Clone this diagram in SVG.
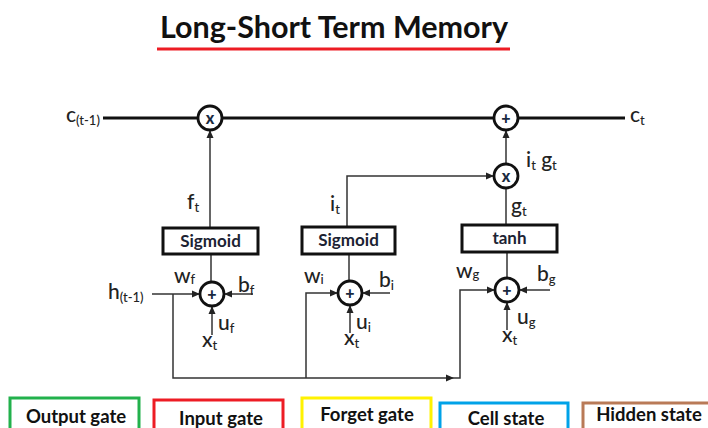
<svg xmlns="http://www.w3.org/2000/svg" width="708" height="428" viewBox="0 0 708 428">
<defs>
<marker id="arr" markerUnits="userSpaceOnUse" markerWidth="8" markerHeight="8" refX="7" refY="4" orient="auto">
<path d="M0,0.5 L8,4 L0,7.5 Z" fill="#222"/>
</marker>
<style>
text{font-family:Lato,"Liberation Sans",sans-serif;fill:#222}
.title{font-size:30.5px;font-weight:bold;fill:#111}
.op{fill:#fff;stroke:#111;stroke-width:2.8}
.opt{font-size:16px;font-weight:900;text-anchor:middle;fill:#1a2a40}
.box{fill:#fff;stroke:#111;stroke-width:3}
.bt{font-size:17px;font-weight:bold;text-anchor:middle;fill:#1c2333}
.main{stroke:#111;stroke-width:3;fill:none}
.thin{stroke:#333;stroke-width:1.5;fill:none}
.lbl{font-size:21px;font-weight:500}
.sub{font-size:13px}
.lg{fill:#fff;stroke-width:3}
.lt{font-size:18.5px;font-weight:bold;text-anchor:middle;fill:#111}
</style>
</defs>
<rect width="708" height="428" fill="#fff"/>
<g id="title">
<text class="title" x="334" y="38" text-anchor="middle">Long-Short Term Memory</text>
<line x1="157" y1="49" x2="510" y2="49" stroke="#ed1c24" stroke-width="3"/>
</g>
<g id="connectors">
<line class="main" x1="103" y1="118" x2="198" y2="118"/>
<line class="main" x1="222" y1="118" x2="494" y2="118"/>
<line class="main" x1="518" y1="118" x2="625" y2="118"/>
<line class="thin" x1="210" y1="228" x2="210" y2="131" marker-end="url(#arr)"/>
<line class="thin" x1="211" y1="254" x2="211" y2="282"/>
<polyline class="thin" points="347,227 347,176 493,176" marker-end="url(#arr)"/>
<line class="thin" x1="349" y1="254" x2="349" y2="281"/>
<line class="thin" x1="506" y1="163" x2="506" y2="131" marker-end="url(#arr)"/>
<line class="thin" x1="506" y1="225" x2="506" y2="188"/>
<line class="thin" x1="507" y1="252" x2="507" y2="278"/>
<line class="thin" x1="152" y1="294" x2="199" y2="294" marker-end="url(#arr)"/>
<polyline class="thin" points="173,294 173,378 453,378" marker-end="url(#arr)"/>
<polyline class="thin" points="453,378 460,378 460,290 494,290" marker-end="url(#arr)"/>
<polyline class="thin" points="306,378 306,293 337,293" marker-end="url(#arr)"/>
<line class="thin" x1="253" y1="294" x2="225" y2="294" marker-end="url(#arr)"/>
<line class="thin" x1="390" y1="293" x2="363" y2="293" marker-end="url(#arr)"/>
<line class="thin" x1="550" y1="290" x2="520" y2="290" marker-end="url(#arr)"/>
<line class="thin" x1="212" y1="335" x2="212" y2="307" marker-end="url(#arr)"/>
<line class="thin" x1="350" y1="333" x2="350" y2="306" marker-end="url(#arr)"/>
<line class="thin" x1="507" y1="330" x2="507" y2="303" marker-end="url(#arr)"/>
</g>
<g id="forget-mult"><circle class="op" cx="210" cy="118" r="12"/><text class="opt" x="210" y="123.5">x</text></g>
<g id="cell-add"><circle class="op" cx="506" cy="118" r="12"/><text class="opt" x="506" y="123.5">+</text></g>
<g id="input-mult"><circle class="op" cx="506" cy="176" r="12"/><text class="opt" x="506" y="181.5">x</text></g>
<g id="forget-sum"><circle class="op" cx="212" cy="294" r="12"/><text class="opt" x="212" y="299.5">+</text></g>
<g id="input-sum"><circle class="op" cx="350" cy="293" r="12"/><text class="opt" x="350" y="298.5">+</text></g>
<g id="cand-sum"><circle class="op" cx="507" cy="290" r="12"/><text class="opt" x="507" y="295.5">+</text></g>
<g id="sigmoid-f"><rect class="box" x="163" y="228" width="95" height="26"/><text class="bt" x="210.5" y="247">Sigmoid</text></g>
<g id="sigmoid-i"><rect class="box" x="302" y="227" width="93" height="27"/><text class="bt" x="348.5" y="246">Sigmoid</text></g>
<g id="tanh"><rect class="box" x="462" y="225" width="95" height="27"/><text class="bt" x="509.5" y="244">tanh</text></g>
<g id="labels">
<text class="lbl" x="66" y="122">c<tspan class="sub" dy="3">(t-1)</tspan></text>
<text class="lbl" x="630" y="122">c<tspan class="sub" dy="3">t</tspan></text>
<text class="lbl" x="187" y="209">f<tspan class="sub" dy="3">t</tspan></text>
<text class="lbl" x="330" y="211">i<tspan class="sub" dy="3">t</tspan></text>
<text class="lbl" x="511" y="213">g<tspan class="sub" dy="3">t</tspan></text>
<text class="lbl" x="526" y="167">i<tspan class="sub" dy="3">t</tspan><tspan dy="-3"> g</tspan><tspan class="sub" dy="3">t</tspan></text>
<text class="lbl" x="108" y="299">h<tspan class="sub" dy="3">(t-1)</tspan></text>
<text class="lbl" x="174" y="283" font-size="17">w<tspan class="sub" dy="1">f</tspan></text>
<text class="lbl" x="238" y="292">b<tspan class="sub" dy="3">f</tspan></text>
<text class="lbl" x="218" y="330">u<tspan class="sub" dy="3">f</tspan></text>
<text class="lbl" x="202" y="347">x<tspan class="sub" dy="3">t</tspan></text>
<text class="lbl" x="304" y="283" font-size="17">w<tspan class="sub" dy="1">i</tspan></text>
<text class="lbl" x="379" y="287">b<tspan class="sub" dy="3">i</tspan></text>
<text class="lbl" x="356" y="329">u<tspan class="sub" dy="3">i</tspan></text>
<text class="lbl" x="344" y="345">x<tspan class="sub" dy="3">t</tspan></text>
<text class="lbl" x="456" y="278" font-size="17">w<tspan class="sub" dy="1">g</tspan></text>
<text class="lbl" x="537" y="281">b<tspan class="sub" dy="3">g</tspan></text>
<text class="lbl" x="517" y="324">u<tspan class="sub" dy="3">g</tspan></text>
<text class="lbl" x="502" y="342">x<tspan class="sub" dy="3">t</tspan></text>
</g>
<g id="legend-output"><rect class="lg" x="10" y="398" width="129" height="36" stroke="#22b14c"/><text class="lt" x="76" y="423">Output gate</text></g>
<g id="legend-input"><rect class="lg" x="154" y="400" width="129" height="36" stroke="#ed1c24"/><text class="lt" x="221" y="425">Input gate</text></g>
<g id="legend-forget"><rect class="lg" x="302" y="398" width="129" height="36" stroke="#fff200"/><text class="lt" x="367" y="421">Forget gate</text></g>
<g id="legend-cell"><rect class="lg" x="440" y="403" width="128" height="36" stroke="#00a2e8"/><text class="lt" x="506" y="425">Cell state</text></g>
<g id="legend-hidden"><rect class="lg" x="583" y="403" width="128" height="36" stroke="#b97a57"/><text class="lt" x="649" y="421">Hidden state</text></g>
</svg>
